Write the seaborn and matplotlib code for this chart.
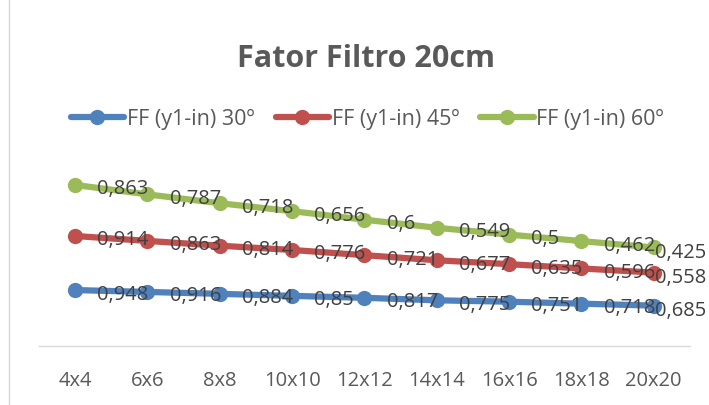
import pandas as pd
import seaborn as sns
import matplotlib.pyplot as plt
from matplotlib.lines import Line2D

# data (stacked line chart, labels show own values)
sizes = ['4x4', '6x6', '8x8', '10x10', '12x12', '14x14', '16x16', '18x18', '20x20']
ff30 = [0.948, 0.916, 0.884, 0.85, 0.817, 0.775, 0.751, 0.718, 0.685]
ff45 = [0.914, 0.863, 0.814, 0.776, 0.721, 0.677, 0.635, 0.596, 0.558]
ff60 = [0.863, 0.787, 0.718, 0.656, 0.6, 0.549, 0.5, 0.462, 0.425]
series_names = ['FF (y1-in) 30º', 'FF (y1-in) 45º', 'FF (y1-in) 60º']
colors = ['#4F81BD', '#C0504D', '#9BBB59']

sns.set_style('white')
plt.rcParams['font.family'] = ['Open Sans', 'DejaVu Sans']

rows = []
base = [0.0] * len(sizes)
for name, vals in zip(series_names, [ff30, ff45, ff60]):
    for i, (s, v) in enumerate(zip(sizes, vals)):
        base[i] += v
        rows.append({'size': s, 'pos': i, 'series': name, 'value': v, 'stacked': base[i]})
df = pd.DataFrame(rows)

fig = plt.figure(figsize=(7.09, 4.06), dpi=100)
ax = fig.add_axes([0.055, 0.145, 0.918, 0.437])

sns.lineplot(data=df, x='pos', y='stacked', hue='series', palette=colors,
             marker='o', markersize=11, markeredgewidth=0, linewidth=4.5,
             sort=False, legend=False, ax=ax)

def fmt(v):
    return ('%g' % v).replace('.', ',')

last = len(sizes) - 1
for _, r in df.iterrows():
    # last labels squeezed against the right edge, like the original
    off = (1, -3) if r['pos'] == last else (16, -2.5)
    ax.annotate(fmt(r['value']), (r['pos'], r['stacked']), xytext=off,
                textcoords='offset points', ha='left', va='center',
                fontsize=14.5, color='#404040', annotation_clip=False, zorder=5)

ax.set_xlim(-0.5, len(sizes) - 0.5)
ax.set_ylim(0, 3)
ax.set_xticks(range(len(sizes)))
ax.set_xticklabels(sizes, fontsize=14.5, color='#595959')
ax.tick_params(axis='x', length=0, pad=17)
ax.set_yticks([])
ax.set_xlabel('')
ax.set_ylabel('')
for side in ['top', 'left', 'right']:
    ax.spines[side].set_visible(False)
ax.spines['bottom'].set_color('#D9D9D9')
ax.spines['bottom'].set_linewidth(1)

fig.text(0.516, 0.855, 'Fator Filtro 20cm', ha='center', va='center',
         fontsize=22, fontweight='bold', color='#595959')

handles = [Line2D([0], [0], color=c, linewidth=4.5, marker='o', markersize=11,
                  markeredgewidth=0) for c in colors]
fig.legend(handles, series_names, loc='center', bbox_to_anchor=(0.518, 0.705),
           ncol=3, frameon=False, fontsize=15.5, handlelength=2.5,
           handletextpad=0.1, columnspacing=1.0, labelcolor='#595959')

fig.add_artist(Line2D([0.013, 0.013], [0, 1], color='#D9D9D9', linewidth=1))

fig.savefig('out.png', dpi=100)
